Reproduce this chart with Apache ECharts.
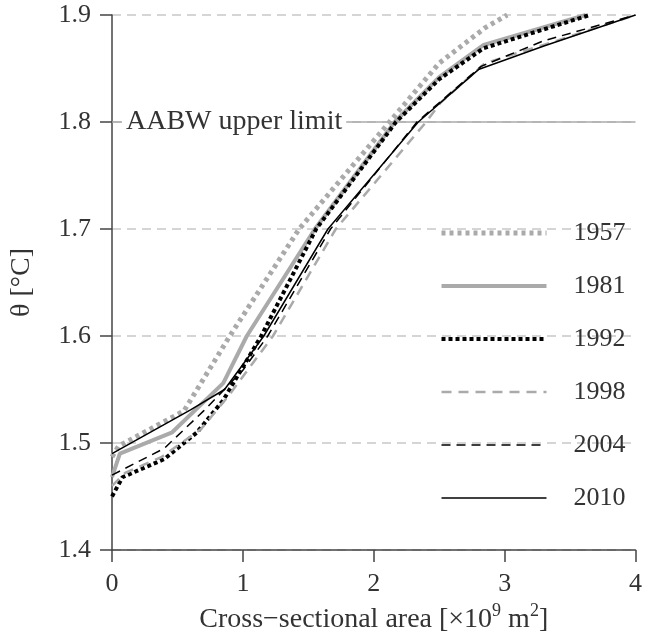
<!DOCTYPE html>
<html>
<head>
<meta charset="utf-8">
<script src="https://cdn.jsdelivr.net/npm/echarts@6/dist/echarts.min.js"></script>
<style>
  html, body { margin: 0; padding: 0; background: #fff; }
  #chart { width: 645px; height: 639px; }
</style>
</head>
<body>
<div id="chart"></div>
<script>
// Potential temperature vs. cumulative cross-sectional area, one profile per survey year
const years = ['1957', '1981', '1992', '1998', '2004', '2010'];

const area1957  = [0, 0.05, 0.55, 0.90, 1.43, 2.12, 2.50, 2.85, 3.02];
const theta1957 = [1.487, 1.497, 1.530, 1.600, 1.700, 1.800, 1.855, 1.888, 1.900];

const area1981  = [0, 0.06, 0.46, 0.85, 1.03, 1.55, 2.16, 2.50, 2.84, 3.62];
const theta1981 = [1.468, 1.490, 1.510, 1.556, 1.600, 1.700, 1.800, 1.842, 1.872, 1.900];

const area1992  = [0, 0.08, 0.40, 0.65, 0.85, 1.14, 1.56, 2.17, 2.50, 2.84, 3.65];
const theta1992 = [1.450, 1.468, 1.485, 1.510, 1.540, 1.600, 1.700, 1.800, 1.840, 1.869, 1.900];

const area1998  = [0, 0.10, 0.38, 0.68, 0.89, 1.23, 1.71, 2.40, 2.51, 2.85, 3.40, 4.00];
const theta1998 = [1.460, 1.472, 1.487, 1.513, 1.544, 1.600, 1.700, 1.800, 1.818, 1.855, 1.876, 1.900];

const area2004  = [0, 0.40, 0.70, 1.00, 1.19, 1.67, 2.33, 2.82, 3.30, 4.00];
const theta2004 = [1.470, 1.495, 1.530, 1.568, 1.600, 1.700, 1.800, 1.852, 1.876, 1.900];

const area2010  = [0, 0.60, 0.86, 1.16, 1.65, 2.34, 2.80, 3.30, 4.00];
const theta2010 = [1.490, 1.531, 1.550, 1.600, 1.700, 1.800, 1.849, 1.871, 1.900];

const xTicks = [0, 1, 2, 3, 4];
const yTicks = [1.4, 1.5, 1.6, 1.7, 1.8, 1.9];
const aabwLimit = 1.8;
const aabwLabel = 'AABW upper limit';

const FONT = "'Liberation Serif', 'Times New Roman', serif";
const GREY = '#aaaaaa';
const TEXT = '#333333';

const pairs = (xs, ys) => xs.map((x, i) => [x, ys[i]]);

const profiles = {
  '1957': pairs(area1957, theta1957),
  '1981': pairs(area1981, theta1981),
  '1992': pairs(area1992, theta1992),
  '1998': pairs(area1998, theta1998),
  '2004': pairs(area2004, theta2004),
  '2010': pairs(area2010, theta2010)
};

const lineStyles = {
  '1957': { color: GREY, width: 5,   type: [4, 4], cap: 'butt' },
  '1981': { color: GREY, width: 4,   type: 'solid' },
  '1992': { color: '#000', width: 4, type: [4, 3], cap: 'butt' },
  '1998': { color: GREY, width: 2.5, type: [10, 7] },
  '2004': { color: '#000', width: 1.5, type: [9, 6] },
  '2010': { color: '#000', width: 1.5, type: 'solid' }
};

const series = years.map(y => ({
  name: y,
  type: 'line',
  data: profiles[y],
  symbol: 'none',
  smooth: false,
  color: lineStyles[y].color,
  lineStyle: lineStyles[y],
  z: 3
}));

// threshold line with its label
series.push({
  name: 'limit',
  type: 'line',
  data: [],
  silent: true,
  markLine: {
    silent: true,
    symbol: 'none',
    lineStyle: { color: GREY, width: 1.5, type: 'solid' },
    label: { show: false },
    data: [{ yAxis: aabwLimit }],
    z: 1
  },
  markPoint: {
    silent: true,
    symbol: 'rect',
    symbolSize: 0,
    data: [{ coord: [0, aabwLimit] }],
    label: {
      show: true,
      position: 'right',
      distance: 10,
      formatter: aabwLabel,
      fontFamily: FONT,
      fontSize: 28,
      color: TEXT,
      backgroundColor: '#fff',
      padding: [0, 4, 0, 4]
    },
    z: 2
  },
  z: 1
});

const chart = echarts.init(document.getElementById('chart'));
chart.setOption({
  animation: false,
  backgroundColor: '#fff',
  grid: { left: 110, right: 9, top: 15, bottom: 88, containLabel: false },
  legend: {
    data: years.map(y => ({
      name: y,
      lineStyle: {
        color: lineStyles[y].color,
        width: lineStyles[y].width,
        type: lineStyles[y].type,
        cap: lineStyles[y].cap || 'butt'
      }
    })),
    orient: 'vertical',
    left: 434,
    top: 215,
    itemWidth: 105,
    itemHeight: 14,
    itemGap: 27,
    itemStyle: { opacity: 0 },
    textStyle: { fontFamily: FONT, fontSize: 26, color: TEXT, padding: [0, 0, 0, 22] }
  },
  xAxis: {
    type: 'value',
    min: xTicks[0],
    max: xTicks[xTicks.length - 1],
    interval: 1,
    name: '{n|Cross\u2212sectional area [\u00d710}{s|9}{n| m}{s|2}{n|]}',
    nameLocation: 'middle',
    nameGap: 52,
    nameTextStyle: {
      rich: {
        n: { fontFamily: FONT, fontSize: 28, color: TEXT, lineHeight: 32, verticalAlign: 'bottom' },
        s: { fontFamily: FONT, fontSize: 18, color: TEXT, lineHeight: 32, verticalAlign: 'top' }
      }
    },
    axisLine: { show: true, lineStyle: { color: '#444', width: 1.5 } },
    axisTick: { show: true, inside: false, length: 12, lineStyle: { color: '#444', width: 1.5 } },
    axisLabel: { margin: 21, fontFamily: FONT, fontSize: 26, color: TEXT },
    splitLine: { show: false }
  },
  yAxis: {
    type: 'value',
    min: yTicks[0],
    max: yTicks[yTicks.length - 1],
    interval: 0.1,
    name: '\u03b8 [\u00b0C]',
    nameLocation: 'middle',
    nameGap: 76,
    nameRotate: 90,
    nameTextStyle: { fontFamily: FONT, fontSize: 28, color: TEXT },
    axisLine: { show: true, lineStyle: { color: '#444', width: 1.5 } },
    axisTick: { show: true, inside: false, length: 12, lineStyle: { color: '#444', width: 1.5 } },
    axisLabel: {
      margin: 21,
      fontFamily: FONT,
      fontSize: 26,
      color: TEXT,
      formatter: v => v.toFixed(1)
    },
    splitLine: { show: true, lineStyle: { color: '#c8c8c8', width: 1.5, type: [9, 6] } }
  },
  series: series
});
</script>
</body>
</html>
